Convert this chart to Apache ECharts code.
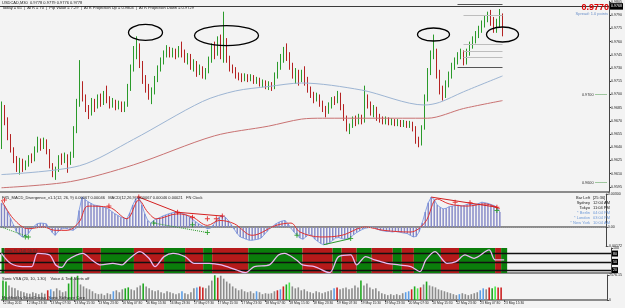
<!DOCTYPE html>
<html>
<head>
<meta charset="utf-8">
<script src="https://cdn.jsdelivr.net/npm/echarts@6/dist/echarts.min.js"></script>
<style>
  html, body { margin: 0; padding: 0; background: #f3f3f3; }
  #chart { width: 625px; height: 308px; }
</style>
</head>
<body>
<div id="chart"></div>
<script>
// time labels, one for every 8 hourly bars
const tickLabels = ['12 May 2011', '12 May 23:30', '13 May 07:30', '13 May 15:30', '13 May 23:30',
  '16 May 07:30', '16 May 15:30', '16 May 23:30', '17 May 07:30', '17 May 15:30', '17 May 23:30',
  '18 May 07:30', '18 May 15:30', '18 May 23:30', '19 May 07:30', '19 May 15:30', '19 May 23:30',
  '20 May 07:30', '20 May 15:30', '22 May 23:30', '23 May 07:30', '23 May 15:30']

// hourly candles, pips above 0.9600: [open, close, low, high]
const candlesPips = [
  [45,85,38,92],[85,70,65,88],[70,52,48,74],[52,38,34,55],[38,27,22,40],[27,20,12,30],[20,24,9,28],[24,16,12,27],
  [16,22,14,25],[22,28,18,31],[28,26,22,33],[26,38,24,41],[38,45,34,52],[45,40,36,50],[40,47,38,51],[47,36,32,49],
  [36,20,16,38],[20,10,6,22],[10,14,3,18],[14,28,12,31],[28,24,20,33],[24,30,22,34],[30,26,11,32],[26,32,20,35],
  [32,60,28,64],[60,90,56,95],[90,108,86,139],[108,98,92,115],[98,84,80,100],[84,78,72,88],[78,92,76,96],[92,86,80,95],
  [86,96,84,100],[96,90,86,101],[90,100,88,104],[100,95,90,110],[95,88,84,98],[88,92,85,96],[92,86,82,94],[86,90,83,93],
  [90,84,80,92],[84,88,80,92],[88,108,86,112],[108,130,104,134],[130,150,126,155],[150,156,140,166],[156,135,130,158],[135,118,112,138],
  [118,108,102,122],[108,98,94,112],[98,104,89,108],[104,118,100,121],[118,130,114,133],[130,138,126,142],[138,146,134,150],[146,152,142,156],
  [152,146,142,154],[146,150,142,153],[150,144,140,152],[144,152,142,155],[152,148,142,160],[148,140,136,151],[140,144,134,147],[144,132,128,146],
  [132,136,126,140],[136,126,120,138],[126,130,122,134],[130,122,118,132],[122,126,117,130],[126,140,124,143],[140,154,136,158],[154,148,140,160],
  [148,160,144,166],[160,150,140,168],[150,158,136,194],[158,140,136,164],[140,130,126,144],[130,128,124,134],[128,122,118,131],[122,120,116,125],
  [120,118,114,124],[118,121,115,124],[121,117,114,123],[117,120,115,123],[120,115,112,122],[115,117,112,120],[117,112,109,119],[112,114,108,117],
  [114,110,106,116],[110,112,105,115],[112,108,104,114],[108,122,106,125],[122,134,118,137],[134,140,128,146],[140,150,136,154],[150,146,138,158],
  [146,132,128,148],[132,124,118,136],[124,126,112,130],[126,116,110,128],[116,124,114,128],[124,118,110,132],[118,106,102,120],[106,100,96,109],
  [100,96,90,103],[96,98,92,102],[98,90,86,100],[90,84,80,93],[84,80,74,87],[80,88,78,91],[88,94,84,97],[94,92,88,98],
  [92,100,90,104],[100,86,82,102],[86,74,70,89],[74,62,58,76],[62,64,55,67],[64,72,62,75],[72,68,64,76],[68,74,66,78],
  [74,70,66,77],[70,96,68,110],[96,88,84,100],[88,80,76,92],[80,84,74,88],[84,74,70,86],[74,72,68,78],[72,70,66,75],
  [70,72,66,75],[72,68,65,74],[68,70,65,73],[70,67,64,72],[67,69,64,72],[69,66,63,71],[66,68,63,71],[68,65,62,70],
  [65,67,62,70],[67,62,58,69],[62,48,44,64],[48,44,40,52],[44,62,42,65],[62,96,60,100],[96,126,92,130],[126,146,122,150],
  [146,150,140,168],[150,124,118,152],[124,106,100,128],[106,100,93,110],[100,112,96,116],[112,122,108,126],[122,132,118,136],[132,138,128,142],
  [138,144,134,148],[144,148,140,152],[148,136,133,150],[136,148,134,152],[148,156,144,160],[156,162,152,166],[162,168,158,172],[168,174,164,178],
  [174,180,170,184],[180,186,176,190],[186,190,182,194],[190,184,178,196],[184,174,170,188],[174,180,170,186],[180,188,176,197],[188,170,166,192]
]

// moving averages read at a few bars: [barIndex, pips]
const maBluePts = [[0,9],[26,19],[44,49],[67,92],[78,104],[89,109],[100,113],[120,105],[141,88],[146,91],[154,103],[167,121]]
const maRedPts = [[0,-6],[23,1],[44,20],[71,53],[89,64],[100,72],[107,73],[142,73],[154,84],[167,93]]

// price axis labels
const priceTicks = [0.9595, 0.9610, 0.9625, 0.9640, 0.9655, 0.9670, 0.9685, 0.9700, 0.9715, 0.9730, 0.9745, 0.9760, 0.9775, 0.9790, 0.9805]
const fullLevels = [0.9792, 0.9768]
const atrLevels = [0.9803, 0.9790, 0.97565, 0.97495, 0.97425, 0.9731]
const roundLevels = [0.9700, 0.9600]

// MACD histogram, units of 0.00001
const macdVals = [
  217,190,140,80,20,-40,-70,-90,-80,-60,-20,10,30,36,34,30,-10,-50,-75,-40,
  -20,-10,-15,-25,-30,-10,150,272,250,230,215,200,195,190,180,175,160,140,120,105,
  90,80,75,130,200,255,272,200,120,60,36,60,75,85,100,110,120,128,136,134,
  130,120,110,90,70,50,30,15,0,-15,-10,20,60,90,100,90,60,20,-20,-60,
  -90,-100,-110,-120,-120,-115,-110,-100,-70,-40,-10,10,30,45,55,60,30,-10,-45,-75,
  -100,-110,-90,-60,-80,-110,-130,-150,-160,-155,-140,-120,-100,-95,-105,-110,-105,-95,-70,-50,
  -35,-20,-10,-5,0,-5,-20,-30,-35,-40,-40,-45,-40,-45,-50,-55,-60,-75,-90,-85,
  -40,40,136,220,272,250,200,180,165,170,185,190,195,200,190,195,205,210,200,205,
  215,226,220,215,205,195,180,136
]
const signalPts = [[0,245],[4,75],[9,-15],[14,0],[18,-30],[22,-30],[26,45],[29,190],[36,180],[42,75],[46,245],
  [49,136],[52,75],[59,120],[64,90],[69,15],[73,60],[78,30],[84,-75],[92,15],[97,36],[100,-45],[107,-90],
  [114,-75],[122,0],[128,-30],[137,-45],[142,45],[146,255],[150,210],[156,190],[162,210],[167,165]]
const divRedMarks = [[1,245],[36,190],[46,272],[59,134],[64,90],[69,75],[72,75],[74,100],[152,226],[157,220],[166,180]]
const divGreenMarks = [[8,-90],[9,-90],[51,36],[64,20],[69,-50],[99,-75],[117,-105],[166,150]]
const divRedLines = [[[46,272],[59,134]], [[59,134],[74,100]], [[144,272],[166,180]]]
const divGreenLines = [[[0,0],[9,-90]], [[51,36],[69,-50]], [[108,-160],[117,-105]]]

// trend band: [lastBarIndex, 'g' | 'r']
const bandRuns = [[0,'g'],[18,'r'],[26,'g'],[32,'r'],[43,'g'],[53,'r'],[60,'g'],[66,'r'],[69,'g'],[81,'r'],[99,'g'],
  [109,'r'],[112,'g'],[117,'r'],[122,'g'],[129,'r'],[132,'g'],[136,'r'],[145,'g'],[151,'r'],[163,'g'],[165,'r'],[167,'g']]
const bandLinePts = [[0,81],[3,45],[7,33],[10,33],[12,81],[16,75],[18,39],[20,30],[22,57],[27,81],[30,57],[33,39],
  [37,45],[40,39],[42,57],[46,87],[49,63],[51,33],[54,69],[57,81],[61,69],[64,45],[69,45],[73,39],[78,21],[81,11],
  [84,33],[89,39],[92,75],[94,81],[98,57],[100,39],[104,33],[109,11],[112,69],[116,75],[118,39],[121,69],[124,57],
  [128,45],[132,39],[136,33],[139,15],[141,57],[144,87],[148,45],[151,51],[154,75],[157,63],[162,93],[164,57],[167,57]]
const bandLevels = [80, 50, 20]

// volume per bar and the bars that carry a VSA colour
const volumes = [
  2000,1900,1500,1300,1200,1000,900,800,700,650,800,700,600,750,650,1000,1100,900,1200,1000,
  800,900,1700,2400,2100,2500,1600,1400,1200,1100,900,700,600,650,500,700,600,900,1000,800,
  1100,1200,1300,1100,1000,1300,1500,1700,1400,1200,1000,900,1000,800,700,900,800,700,600,700,
  900,700,600,800,1200,1300,1400,1300,1200,1500,2000,2550,2300,2500,2200,1900,1700,1400,1200,1000,
  1100,900,800,900,700,900,800,600,700,650,700,900,1000,1100,1400,1600,1800,1400,1200,1300,
  1000,1100,900,800,700,900,800,700,800,900,1000,1200,1300,1100,1200,1300,1100,1200,1500,1300,
  2000,1500,1700,1300,1100,1200,900,700,600,500,600,500,600,500,700,800,900,1100,1400,1200,
  1300,1600,1900,1500,1400,1300,1100,1000,900,800,700,600,500,600,700,600,500,600,700,800,
  1000,1200,1100,1300,1200,1400,1300,1300
]
const volKinds = {0:'G',1:'G',15:'R',16:'B',22:'G',23:'G',25:'G',37:'B',41:'G',42:'G',47:'G',60:'B',65:'B',66:'R',
  67:'R',71:'G',72:'R',85:'B',92:'R',93:'B',94:'R',95:'G',96:'L',111:'B',112:'R',120:'G',135:'B',136:'B',137:'R',
  138:'G',139:'L',140:'R',142:'G',153:'B',160:'B',161:'B',163:'R',164:'G',165:'L',166:'R',167:'R'}

// circled highs: [barIndex, price]
const circledHighs = [[48, 0.97704], [75, 0.97669], [144, 0.97681], [167, 0.97681]]

const FONT = 'Liberation Sans'
const N = 203 // empty slots to the right of the last bar
const categories = []
for (let i = 0; i < N; i++) {
  categories.push(i % 8 === 0 && i / 8 < tickLabels.length ? tickLabels[i / 8] : 'b' + i)
}
const toPrice = p => +(0.96 + p / 10000).toFixed(5)
const sparse = (pts, conv) => {
  const a = new Array(candlesPips.length).fill(null)
  pts.forEach(([i, v]) => { a[i] = conv ? conv(v) : v })
  return a
}
const volColor = { g: '#8c8c8c', G: '#1fa81f', L: '#49e849', R: '#cc2222', B: '#5c9ee6' }
const bandColor = { r: '#b51a1a', g: '#0b7d0b' }

// one shaded area per run of the trend band
const bandAreas = []
let runStart = 0
bandRuns.forEach(([end, c]) => {
  bandAreas.push([
    { xAxis: runStart, itemStyle: { color: bandColor[c], opacity: 1, borderWidth: 0 } },
    { xAxis: end + 1 }
  ])
  runStart = end + 1
})

const chart = echarts.init(document.getElementById('chart'))

const xAxisFor = (gridIndex, withLabels) => ({
  type: 'category',
  gridIndex,
  data: categories,
  boundaryGap: true,
  axisLine: { show: true, lineStyle: { color: '#6a6a6a', width: 1.5 } },
  axisTick: {
    show: withLabels, length: 2, alignWithLabel: true,
    interval: idx => idx % 8 === 0 && idx <= 168, lineStyle: { color: '#555' }
  },
  axisLabel: {
    show: withLabels,
    interval: idx => idx % 8 === 0 && idx <= 168,
    formatter: v => (v.charAt(0) === 'b' ? '' : v),
    align: 'left', fontSize: 3.3, margin: 1.5, color: '#222', fontFamily: FONT
  },
  splitLine: { show: false }
})

const rightAxis = (gridIndex, min, max, values, fmt) => ({
  type: 'value',
  gridIndex,
  position: 'right',
  min, max,
  axisLine: { show: true, lineStyle: { color: '#444' } },
  axisTick: { show: true, length: 2, customValues: values, lineStyle: { color: '#444' } },
  axisLabel: { customValues: values, formatter: fmt, fontSize: 3.6, margin: 2, color: '#222', fontFamily: FONT },
  splitLine: { show: false }
})

const boxLabel = text => ({
  show: true, position: 'end', distance: 1, formatter: text,
  backgroundColor: '#000', color: '#fff', fontSize: 3.6, padding: [1, 1], fontFamily: FONT
})

const option = {
  backgroundColor: '#f3f3f3',
  animation: false,
  textStyle: { fontFamily: FONT },
  grid: [
    { left: 0, top: 0, width: 611, height: 192 },
    { left: 0, top: 194, width: 611, height: 52 },
    { left: 0, top: 248, width: 611, height: 25 },
    { left: 0, top: 275, width: 611, height: 25 }
  ],
  xAxis: [xAxisFor(0, false), xAxisFor(1, false), xAxisFor(2, false), xAxisFor(3, true)],
  yAxis: [
    rightAxis(0, 0.95892, 0.98058, priceTicks, v => v.toFixed(4)),
    rightAxis(1, -172, 300, [-172, 0, 300], v => (v === 0 ? '0.00' : (v / 100000).toFixed(5))),
    rightAxis(2, 10, 100, [100], v => String(v)),
    rightAxis(3, 0, 2576.15, [2576.15, 0], v => (v === 0 ? '0' : v.toFixed(2)))
  ],
  series: [
    {
      type: 'candlestick',
      xAxisIndex: 0, yAxisIndex: 0,
      data: candlesPips.map(c => c.map(toPrice)),
      barWidth: 1.3,
      itemStyle: { color: '#6cc06c', borderColor: '#2a9a2a', color0: '#ecb6b6', borderColor0: '#b42222', borderWidth: 1 },
      markLine: {
        silent: true, symbol: ['none', 'none'],
        data: [
          { yAxis: fullLevels[0], lineStyle: { color: '#a8a8a8', width: 1, type: 'solid' }, label: boxLabel(fullLevels[0].toFixed(4)) },
          { yAxis: fullLevels[1], lineStyle: { color: '#3a3a3a', width: 1.2, type: 'solid' }, label: boxLabel(fullLevels[1].toFixed(4)) },
          ...atrLevels.map((p, k) => [
            { coord: [k === 0 || k === 5 ? 152 : 154, p], lineStyle: { color: k === 0 || k === 5 ? '#555' : '#bdbdbd', width: 1, type: 'solid' }, label: { show: false } },
            { coord: [167, p] }
          ]),
          ...roundLevels.map(p => [
            { coord: [198, p], lineStyle: { color: '#4a9a4a', width: 1, type: 'dotted' },
              label: { show: true, position: 'start', distance: 2, formatter: p.toFixed(4), fontSize: 3.8, color: '#333' } },
            { coord: [202, p] }
          ])
        ]
      }
    },
    {
      type: 'line', xAxisIndex: 0, yAxisIndex: 0,
      data: sparse(maBluePts, toPrice), connectNulls: true, showSymbol: false, smooth: 0.3,
      lineStyle: { color: '#9db5d3', width: 1 }
    },
    {
      type: 'line', xAxisIndex: 0, yAxisIndex: 0,
      data: sparse(maRedPts, toPrice), connectNulls: true, showSymbol: false, smooth: 0.3,
      lineStyle: { color: '#c97272', width: 1 }
    },
    {
      type: 'bar', xAxisIndex: 1, yAxisIndex: 1,
      data: macdVals, barWidth: 1.4,
      itemStyle: { color: '#8185c6' },
      markLine: {
        silent: true, symbol: ['none', 'none'], label: { show: false },
        lineStyle: { color: '#999', type: 'dotted', width: 1 },
        data: [{ yAxis: 0 }]
      }
    },
    {
      type: 'line', xAxisIndex: 1, yAxisIndex: 1,
      data: macdVals, showSymbol: false,
      lineStyle: { color: '#6f8fe0', width: 0.8 }
    },
    {
      type: 'line', xAxisIndex: 1, yAxisIndex: 1,
      data: sparse(signalPts), connectNulls: true, showSymbol: false, smooth: 0.35,
      lineStyle: { color: '#e03232', width: 1 }
    },
    ...divRedLines.map(seg => ({
      type: 'line', xAxisIndex: 1, yAxisIndex: 1, data: seg, showSymbol: false,
      lineStyle: { color: '#d42020', width: 1 }
    })),
    ...divGreenLines.map((seg, k) => ({
      type: 'line', xAxisIndex: 1, yAxisIndex: 1, data: seg, showSymbol: false,
      lineStyle: { color: '#2a9a2a', width: 1, type: k < 2 ? 'dotted' : 'solid' }
    })),
    {
      type: 'scatter', xAxisIndex: 1, yAxisIndex: 1, data: divRedMarks,
      symbol: 'path://M2,0H3V2H5V3H3V5H2V3H0V2H2Z', symbolSize: 5, itemStyle: { color: '#e01010' }, z: 5
    },
    {
      type: 'scatter', xAxisIndex: 1, yAxisIndex: 1, data: divGreenMarks,
      symbol: 'path://M2,0H3V2H5V3H3V5H2V3H0V2H2Z', symbolSize: 5, itemStyle: { color: '#1a9a1a' }, z: 5
    },
    {
      // band colours, level lines and their tags
      type: 'line', xAxisIndex: 2, yAxisIndex: 2,
      data: [], silent: true, z: 1,
      markArea: { silent: true, data: bandAreas },
      markLine: {
        silent: true, symbol: ['none', 'none'],
        lineStyle: { color: '#111', width: 1.3, type: 'solid' },
        data: bandLevels.map(v => ({ yAxis: v, label: boxLabel(String(v)) }))
      }
    },
    {
      // the oscillator sits on its own canvas layer above the band colours
      type: 'line', xAxisIndex: 2, yAxisIndex: 2,
      data: sparse(bandLinePts), connectNulls: true, showSymbol: false, smooth: 0.3,
      lineStyle: { color: '#eab8f2', width: 1.3 }, zlevel: 1, z: 5
    },
    {
      type: 'bar', xAxisIndex: 3, yAxisIndex: 3,
      data: volumes.map((v, i) => ({ value: v, itemStyle: { color: volColor[volKinds[i] || 'g'] } })),
      barWidth: 1.6
    }
  ],
  graphic: [
    { type: 'text', left: 2, top: 1, z: 100, style: { text: 'USDCAD,M30  0.9778 0.9779 0.9776 0.9778', fontSize: 4, fill: '#222', fontFamily: FONT } },
    { type: 'text', left: 2, top: 5.5, z: 100, style: { text: 'Today = 65  |  ATR = 70  |  Pip Value = 7.29  |  ATR Projection Up = 0.9804  |  ATR Projection Down = 0.9729', fontSize: 4, fill: '#222', fontFamily: FONT } },
    { type: 'text', right: 16, top: 3, z: 100, style: { text: '0.9770', fontSize: 9, fontWeight: 'bold', fill: '#dd0000', fontFamily: FONT } },
    { type: 'text', right: 17, top: 11.5, z: 100, style: { text: 'Spread: 1.0 points', fontSize: 4, fill: '#6a8fc9', fontFamily: FONT } },
    { type: 'text', left: 2, top: 195.5, z: 100, style: { text: 'FX5_MACD_Divergence_v1.1(12, 26, 9) 0.00067 0.00046   MACD(12,26,9) 0.00067 0.00046 0.00021   FN Clock', fontSize: 4, fill: '#222', fontFamily: FONT } },
    { type: 'text', left: 3, top: 249, z: 100, style: { text: 'Sonic R. (14) 56.83', fontSize: 4, fill: '#3a3a3a', fontFamily: FONT } },
    { type: 'text', left: 2, top: 277, z: 100, style: { text: 'Sonic VSA (20, 10, 1.30)    Voice & Text Alerts off', fontSize: 4, fill: '#222', fontFamily: FONT } },
    { type: 'text', left: 2, top: 296, z: 100, style: { text: 'Modified by SonicDeejay  Sonic Software Corp', fontSize: 4, fill: '#222', fontFamily: FONT } }
  ]
}

chart.setOption(option)

// clock block in the MACD window
const clockNames = ['Bar Left', 'Sydney', 'Tokyo', '* Berlin', '* London', '* New York']
const clockTimes = ['[25:36]', '12:04 AM', '11:04 PM', '04:04 PM', '03:04 PM', '10:04 AM']
const extra = []
clockNames.forEach((name, k) => {
  const y = 197.5 + k * 5
  const fill = k < 3 ? '#222' : '#6f9ad8'
  extra.push({ type: 'text', x: 590, y, z: 100, style: { text: name, align: 'right', verticalAlign: 'middle', fontSize: 4, fill, fontFamily: FONT } })
  extra.push({ type: 'text', x: 593, y, z: 100, style: { text: clockTimes[k], align: 'left', verticalAlign: 'middle', fontSize: 4, fill, fontFamily: FONT } })
})

// ellipses drawn round the highs, placed from data coordinates
const ellipseSize = [[17, 8], [32, 10], [16, 6.5], [16, 7.5]]
circledHighs.forEach(([i, p], k) => {
  const [cx, cy] = chart.convertToPixel({ gridIndex: 0 }, [i, p])
  extra.push({
    type: 'ellipse', z: 100,
    shape: { cx, cy, rx: ellipseSize[k][0], ry: ellipseSize[k][1] },
    style: { fill: 'none', stroke: '#000', lineWidth: 1.3 }
  })
})

chart.setOption({ graphic: option.graphic.concat(extra) })
</script>
</body>
</html>
